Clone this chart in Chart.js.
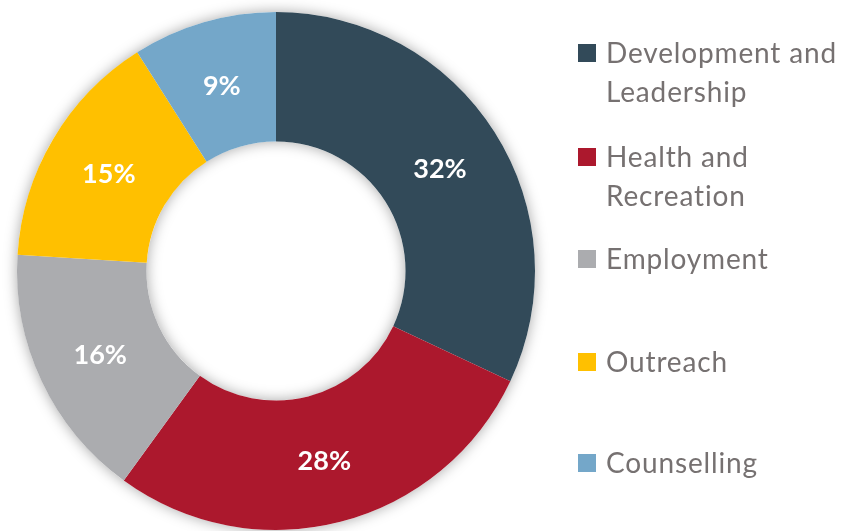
<!DOCTYPE html>
<html>
<head>
<meta charset="utf-8">
<script src="https://cdn.jsdelivr.net/npm/chart.js@4/dist/chart.umd.min.js"></script>
<style>
  html, body { margin: 0; padding: 0; background: #fff; }
  #wrap { position: relative; width: 843px; height: 531px; overflow: hidden; }
  #c { position: absolute; left: 0; top: 0; }
  .item { position: absolute; left: 606px; font-family: Lato, "Open Sans", sans-serif; font-size: 28px; line-height: 38.5px; color: #767171; white-space: nowrap; letter-spacing: 0.85px; }
  .sq { position: absolute; left: 578px; width: 18px; height: 18px; }
</style>
</head>
<body>
<div id="wrap">
  <canvas id="c" width="843" height="531"></canvas>
  <div id="legend"></div>
</div>
<script>
const categories = [["Development and", "Leadership"], ["Health and", "Recreation"], ["Employment"], ["Outreach"], ["Counselling"]];
const values = [32, 28, 16, 15, 9];
const percentLabels = ["32%", "28%", "16%", "15%", "9%"];
const colors = ["#324A59", "#AC182D", "#ABACAF", "#FFC000", "#74A7C9"];
const legendTops = [33, 137, 239, 342, 443];

// HTML legend
const legend = document.getElementById('legend');
categories.forEach((lines, i) => {
  const sq = document.createElement('div');
  sq.className = 'sq';
  sq.style.background = colors[i];
  sq.style.top = (legendTops[i] + 11) + 'px';
  legend.appendChild(sq);
  const t = document.createElement('div');
  t.className = 'item';
  t.style.top = legendTops[i] + 'px';
  t.innerHTML = lines.join('<br>');
  legend.appendChild(t);
});

const shadowPlugin = {
  id: 'ringShadow',
  beforeDatasetsDraw(chart) {
    const meta = chart.getDatasetMeta(0);
    const a = meta.data[0];
    if (!a) return;
    const ctx = chart.ctx;
    ctx.save();
    ctx.shadowColor = 'rgba(0,0,0,0.35)';
    ctx.shadowBlur = 14;
    ctx.beginPath();
    ctx.arc(a.x, a.y, a.outerRadius, 0, Math.PI * 2);
    ctx.arc(a.x, a.y, a.innerRadius, 0, Math.PI * 2, true);
    ctx.fillStyle = '#ffffff';
    ctx.fill();
    ctx.restore();
  }
};

const labelPlugin = {
  id: 'pctLabels',
  afterDatasetsDraw(chart) {
    const meta = chart.getDatasetMeta(0);
    const ctx = chart.ctx;
    ctx.save();
    ctx.fillStyle = '#ffffff';
    ctx.font = 'bold 27px Lato, "Open Sans", sans-serif';
    ctx.textAlign = 'center';
    ctx.textBaseline = 'middle';
    meta.data.forEach((arc, i) => {
      const p = arc.tooltipPosition();
      ctx.fillText(percentLabels[i], p.x, p.y + 2);
    });
    ctx.restore();
  }
};

new Chart(document.getElementById('c'), {
  type: 'doughnut',
  data: {
    labels: categories.map(l => l.join(' ')),
    datasets: [{
      data: values,
      backgroundColor: colors,
      borderWidth: 0,
      hoverOffset: 0
    }]
  },
  options: {
    responsive: false,
    animation: false,
    cutout: '50%',
    layout: { padding: { left: 17, right: 308, top: 12, bottom: 1 } },
    plugins: {
      legend: { display: false },
      tooltip: { enabled: false }
    }
  },
  plugins: [shadowPlugin, labelPlugin]
});
</script>
</body>
</html>
